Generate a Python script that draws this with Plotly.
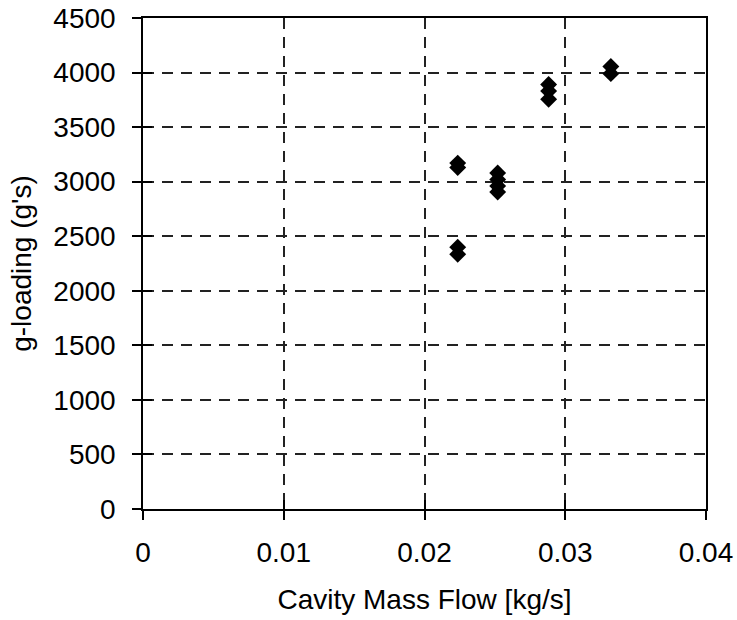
import plotly.graph_objects as go

# Data
mass_flow = [0.02236, 0.02236, 0.02236, 0.02236,
             0.0252, 0.0252, 0.0252, 0.0252,
             0.02882, 0.02882, 0.02882,
             0.03324, 0.03324]
g_loading = [3170, 3130, 2400, 2335,
             3080, 3020, 2960, 2905,
             3890, 3830, 3755,
             4055, 3990]

x_ticks = [0, 0.01, 0.02, 0.03, 0.04]
x_tick_text = ["0", "0.01", "0.02", "0.03", "0.04"]
y_ticks = [0, 500, 1000, 1500, 2000, 2500, 3000, 3500, 4000, 4500]
y_tick_text = [str(v) for v in y_ticks]

FONT = "Liberation Sans, Arial, sans-serif"
FS = 28

fig = go.Figure()
fig.add_trace(go.Scatter(
    x=mass_flow, y=g_loading, mode="markers",
    marker=dict(symbol="diamond", size=13, color="black", line=dict(width=0)),
    showlegend=False))
# helper trace for the inner half of the crossing tick marks
fig.add_trace(go.Scatter(x=[None], y=[None], xaxis="x2", yaxis="y2",
                         showlegend=False, hoverinfo="skip"))

grid = dict(showgrid=True, gridcolor="#222222", gridwidth=1.5, griddash="11px,8px")

fig.update_layout(
    width=737, height=620,
    margin=dict(l=143, r=31, t=18, b=111, autoexpand=False),
    paper_bgcolor="white", plot_bgcolor="white",
    font=dict(family=FONT, size=FS, color="black"),
    xaxis=dict(range=[0, 0.04], tickvals=x_ticks, ticktext=x_tick_text,
               ticks="outside", ticklen=9, tickwidth=1.5, tickcolor="black",
               showline=True, linecolor="black", linewidth=1.5, mirror=True,
               zeroline=False, ticklabelstandoff=9, automargin=False,
               title=dict(text="Cavity Mass Flow [kg/s]", font=dict(size=FS), standoff=22),
               **grid),
    yaxis=dict(range=[0, 4500], tickvals=y_ticks, ticktext=y_tick_text,
               ticks="outside", ticklen=9, tickwidth=1.5, tickcolor="black",
               showline=True, linecolor="black", linewidth=1.5, mirror=True,
               zeroline=False, ticklabelstandoff=11, automargin=False,
               title=dict(text="g-loading (g's)", font=dict(size=FS), standoff=14),
               **grid),
    xaxis2=dict(overlaying="x", anchor="y", side="bottom", range=[0, 0.04],
                tickvals=x_ticks, ticks="inside", ticklen=9, tickwidth=1.5,
                tickcolor="black", showticklabels=False, showgrid=False,
                showline=False, zeroline=False, automargin=False),
    yaxis2=dict(overlaying="y", anchor="x", side="left", range=[0, 4500],
                tickvals=y_ticks, ticks="inside", ticklen=9, tickwidth=1.5,
                tickcolor="black", showticklabels=False, showgrid=False,
                showline=False, zeroline=False, automargin=False),
)

fig.write_html("out.html")
